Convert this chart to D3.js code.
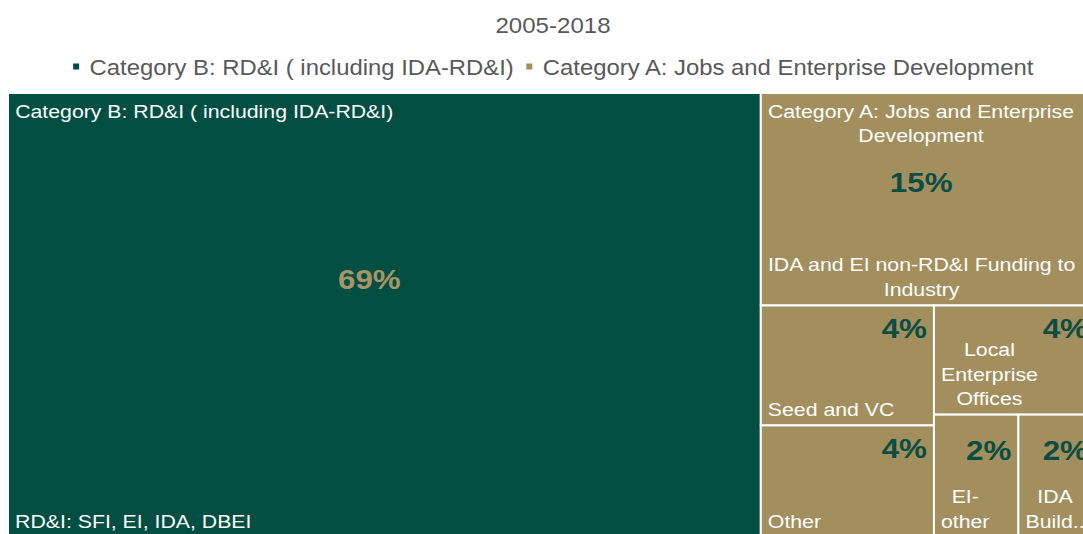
<!DOCTYPE html>
<html>
<head>
<meta charset="utf-8">
<script src="https://cdn.jsdelivr.net/npm/d3@7"></script>
<style>
  html, body { margin: 0; padding: 0; background: #fff; overflow: hidden; }
  svg { display: block; font-family: "Liberation Sans", Arial, sans-serif; }
</style>
</head>
<body>
<script>
// ---------- data ----------
const chartTitle = "2005-2018";
const groupNames = ["Category B: RD&I ( including IDA-RD&I)", "Category A: Jobs and Enterprise Development"];
const leafNames = [
  "RD&I: SFI, EI, IDA, DBEI",
  "IDA and EI non-RD&I Funding to Industry",
  "Seed and VC",
  "Other",
  "Local Enterprise Offices",
  "EI-other",
  "IDA Buildings"
];
const leafGroup = [0, 1, 1, 1, 1, 1, 1];
const leafValues = [69.2, 14.7, 4.3, 4.0, 3.64, 2.14, 1.94];

// ---------- styles ----------
const W = 1083, H = 534;
const groupFill = ["#014e42", "#a38f5e"];
const valueColor = ["#a89464", "#0b4d43"];
const SX = 1.12;               // horizontal text stretch of the original
const FONT = '"Liberation Sans", Arial, sans-serif';

const svg = d3.select("body").append("svg").attr("width", W).attr("height", H);

// measurement helper
const meas = svg.append("text").attr("x", -1000).attr("y", -1000).style("font-family", FONT);
function textW(str, size, weight) {
  meas.style("font-size", size + "px").style("font-weight", weight || "normal").text(str);
  return meas.node().getComputedTextLength() * SX;
}
function addText(g, x, y, str, o) {
  return g.append("text")
    .attr("transform", `translate(${x},${y}) scale(${SX},1)`)
    .attr("text-anchor", o.anchor || "start")
    .attr("dominant-baseline", "central")
    .style("font-size", o.size + "px")
    .style("font-weight", o.weight || "normal")
    .style("fill", o.fill)
    .text(str);
}
function wrap(str, maxW, size) {
  const tokens = [];
  str.split(/\s+/).forEach(word => {
    word.split(/(?<=-)/).forEach((p, i) => tokens.push({ t: p, sp: i === 0 }));
  });
  const lines = [];
  let line = "";
  tokens.forEach(tok => {
    const cand = line ? line + (tok.sp ? " " : "") + tok.t : tok.t;
    if (line && textW(cand, size) > maxW) {
      lines.push(line);
      line = tok.t;
    } else line = cand;
  });
  if (line) lines.push(line);
  return lines.map(l => {
    if (textW(l, size) <= maxW) return l;
    let s = l;
    while (s.length > 1 && textW(s + "..", size) > maxW) s = s.slice(0, -1);
    return s + "..";
  });
}

// ---------- title & legend ----------
const cx = 553;
addText(svg, cx, 25, chartTitle, { anchor: "middle", size: 21.5, fill: "#595959" });

const legSize = 21.3;
const items = groupNames.map((n, i) => ({ n, i, w: textW(n, legSize) }));
const markerToText = 17, itemGap = 12;
const totalW = d3.sum(items, d => markerToText + d.w) + itemGap * (items.length - 1);
let lx = cx - totalW / 2;
const legY = 68;
items.forEach(d => {
  svg.append("rect").attr("x", lx + 0.5).attr("y", legY - 4.5).attr("width", 6).attr("height", 6)
    .attr("fill", groupFill[d.i]);
  addText(svg, lx + markerToText, legY, d.n, { size: legSize, fill: "#595959" });
  lx += markerToText + d.w + itemGap;
});

// ---------- treemap ----------
const rootData = {
  name: "root",
  children: groupNames.map((g, gi) => ({
    name: g,
    gi,
    children: leafNames
      .map((n, i) => ({ name: n, value: leafValues[i], gi: leafGroup[i] }))
      .filter(d => d.gi === gi)
  }))
};
const root = d3.hierarchy(rootData).sum(d => d.value || 0);
const total = root.value;
d3.treemap().tile(d3.treemapSquarify.ratio(1)).size([1087, 444])(root);

const g = svg.append("g").attr("transform", "translate(8,93)");
const leaves = root.leaves();

g.selectAll("rect.leaf").data(leaves).join("rect")
  .attr("class", "leaf")
  .attr("x", d => d.x0).attr("y", d => d.y0)
  .attr("width", d => d.x1 - d.x0).attr("height", d => d.y1 - d.y0)
  .attr("fill", d => groupFill[d.data.gi])
  .attr("stroke", "#fff").attr("stroke-width", 2);

const boxSize = 19, pctSize = 28, lineH = 24.7, pad = 7;

// leaf labels
leaves.forEach(d => {
  const w = d.x1 - d.x0, h = d.y1 - d.y0;
  const lines = wrap(d.data.name, w - 2 * pad, boxSize);
  const bw = d3.max(lines, l => textW(l, boxSize));
  const bx = d.x0 + pad + bw / 2;
  lines.forEach((l, i) => {
    const y = d.y1 - 16 - (lines.length - 1 - i) * lineH;
    addText(g, bx, y, l, { anchor: "middle", size: boxSize, fill: "#ffffff" });
  });
  const pct = Math.round(d.value / total * 100) + "%";
  if (h > 150) {
    addText(g, d.x0 + w * 0.48, d.y0 + h * 0.42, pct,
      { anchor: "middle", size: pctSize, weight: "bold", fill: valueColor[d.data.gi] });
  } else {
    addText(g, d.x1 - 7, d.y0 + (w < 100 ? 35 : 23), pct,
      { anchor: "end", size: pctSize, weight: "bold", fill: valueColor[d.data.gi] });
  }
});

// parent (group) labels
root.children.forEach(d => {
  const w = d.x1 - d.x0;
  const lines = wrap(d.data.name, w - 2 * pad, boxSize);
  const bw = d3.max(lines, l => textW(l, boxSize));
  const bx = d.x0 + pad + bw / 2;
  lines.forEach((l, i) => {
    addText(g, bx, d.y0 + 18 + i * lineH, l, { anchor: "middle", size: boxSize, fill: "#ffffff" });
  });
});
meas.remove();
</script>
</body>
</html>
